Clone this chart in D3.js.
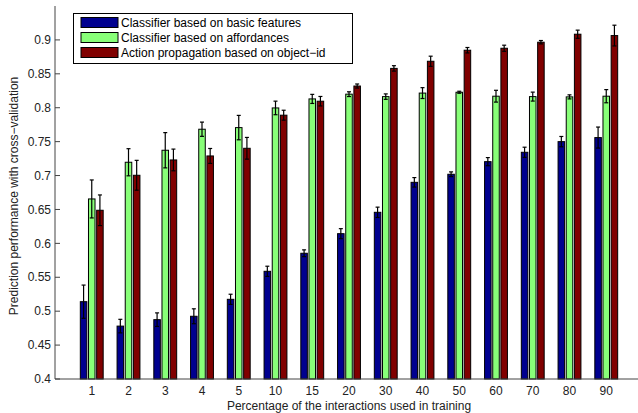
<!DOCTYPE html>
<html>
<head>
<meta charset="utf-8">
<script src="https://cdn.jsdelivr.net/npm/d3@7"></script>
<style>
  html, body { margin: 0; padding: 0; background: #fff; }
  svg { display: block; font-family: "Liberation Sans", Arial, Helvetica, sans-serif; }
</style>
</head>
<body>
<svg id="chart" width="638" height="413"></svg>
<script>
const categories = ["1","2","3","4","5","10","15","20","30","40","50","60","70","80","90"];
const seriesNames = ["Classifier based on basic features", "Classifier based on affordances", "Action propagation based on object\u2212id"];
const basic     = [0.514, 0.478, 0.4875, 0.4925, 0.5175, 0.5588, 0.5854, 0.6143, 0.6458, 0.690, 0.7019, 0.7205, 0.7343, 0.750, 0.756];
const basicErr  = [0.0245, 0.010, 0.010, 0.011, 0.0075, 0.0075, 0.005, 0.0074, 0.0076, 0.007, 0.0035, 0.006, 0.0075, 0.0076, 0.0155];
const afford    = [0.6655, 0.7196, 0.7373, 0.7683, 0.7707, 0.7997, 0.813, 0.820, 0.8164, 0.8216, 0.8228, 0.817, 0.8164, 0.816, 0.817];
const affordErr = [0.028, 0.020, 0.026, 0.0105, 0.018, 0.010, 0.0067, 0.0035, 0.004, 0.008, 0.0015, 0.0087, 0.0066, 0.003, 0.0097];
const objid     = [0.6488, 0.7004, 0.723, 0.7289, 0.7402, 0.789, 0.8096, 0.832, 0.858, 0.8685, 0.8848, 0.8877, 0.8966, 0.9084, 0.9064];
const objidErr  = [0.0226, 0.022, 0.016, 0.011, 0.016, 0.0073, 0.007, 0.003, 0.004, 0.0075, 0.004, 0.0045, 0.0025, 0.006, 0.0153];
const yTicks = [0.4, 0.45, 0.5, 0.55, 0.6, 0.65, 0.7, 0.75, 0.8, 0.85, 0.9];
const colors = ["#00008f", "#88ff78", "#800000"];

const series = [
  {name: seriesNames[0], values: basic, err: basicErr, color: colors[0]},
  {name: seriesNames[1], values: afford, err: affordErr, color: colors[1]},
  {name: seriesNames[2], values: objid, err: objidErr, color: colors[2]}
];

const svg = d3.select("#chart");
const W = 638, H = 413;
const x = d3.scaleLinear().domain([0, categories.length + 1]).range([55, 643]);
const y = d3.scaleLinear().domain([0.4, 0.95]).range([379, 6]);

const step = 2 / 9;          // spacing between bars in a group (data units)
const bw = step * 0.8;       // bar width (data units)
const pxw = x(bw) - x(0);
const axisColor = "#444";

// x tick marks (drawn first, hidden behind bars as in the original)
const xt = svg.append("g");
categories.forEach((c, i) => {
  xt.append("line").attr("x1", x(i + 1)).attr("x2", x(i + 1)).attr("y1", y(0.4)).attr("y2", y(0.4) - 5)
    .attr("stroke", axisColor).attr("stroke-width", 1);
});

const g = svg.append("g");

// bars
series.forEach((s, j) => {
  const off = (j - 1) * step;
  g.append("g").selectAll("rect").data(s.values).join("rect")
    .attr("x", (d, i) => x(i + 1 + off) - pxw / 2)
    .attr("y", d => y(d))
    .attr("width", pxw)
    .attr("height", d => y(0.4) - y(d))
    .attr("fill", s.color)
    .attr("stroke", "#000")
    .attr("stroke-width", 1);
});

// error bars
series.forEach((s, j) => {
  const off = (j - 1) * step;
  const eg = g.append("g").attr("stroke", "#000").attr("stroke-width", 1.2);
  s.values.forEach((v, i) => {
    const cx = x(i + 1 + off);
    const e = s.err[i];
    eg.append("line").attr("x1", cx).attr("x2", cx).attr("y1", y(v + e)).attr("y2", y(v - e));
    eg.append("line").attr("x1", cx - 2).attr("x2", cx + 2).attr("y1", y(v + e)).attr("y2", y(v + e));
    eg.append("line").attr("x1", cx - 2).attr("x2", cx + 2).attr("y1", y(v - e)).attr("y2", y(v - e));
  });
});

// axes
svg.append("line").attr("x1", x(0)).attr("x2", W).attr("y1", y(0.4)).attr("y2", y(0.4))
  .attr("stroke", axisColor).attr("stroke-width", 1);
svg.append("line").attr("x1", x(0)).attr("x2", x(0)).attr("y1", y(0.95)).attr("y2", y(0.4))
  .attr("stroke", axisColor).attr("stroke-width", 1);

// y ticks (inward) and labels
const yg = svg.append("g");
yTicks.forEach(t => {
  yg.append("line").attr("x1", x(0)).attr("x2", x(0) + 5).attr("y1", y(t)).attr("y2", y(t))
    .attr("stroke", axisColor).attr("stroke-width", 1);
  yg.append("text").attr("x", x(0) - 4).attr("y", y(t)).attr("dy", "0.35em")
    .attr("text-anchor", "end").attr("font-size", 12).attr("fill", "#222")
    .text(String(+t.toFixed(2)));
});

// x tick labels
const xg = svg.append("g");
categories.forEach((c, i) => {
  xg.append("text").attr("x", x(i + 1)).attr("y", 394.5)
    .attr("text-anchor", "middle").attr("font-size", 12).attr("fill", "#222").text(c);
});

// axis titles
svg.append("text").attr("x", 349).attr("y", 410)
  .attr("text-anchor", "middle").attr("font-size", 12).attr("fill", "#222")
  .text("Percentage of the interactions used in training");
svg.append("text").attr("transform", "translate(18,196) rotate(-90)")
  .attr("text-anchor", "middle").attr("font-size", 12).attr("fill", "#222")
  .text("Prediction performance with cross\u2212validation");

// legend
const lg = svg.append("g");
lg.append("rect").attr("x", 73.5).attr("y", 13.5).attr("width", 279).attr("height", 50)
  .attr("fill", "#fff").attr("stroke", "#000").attr("stroke-width", 1);
series.forEach((s, j) => {
  const yy = 17.5 + j * 15;
  lg.append("rect").attr("x", 81).attr("y", yy).attr("width", 37).attr("height", 10)
    .attr("fill", s.color).attr("stroke", "#000").attr("stroke-width", 1);
  lg.append("text").attr("x", 121).attr("y", yy + 5).attr("dy", "0.35em")
    .attr("font-size", 12).attr("fill", "#000").text(s.name);
});
</script>
</body>
</html>
